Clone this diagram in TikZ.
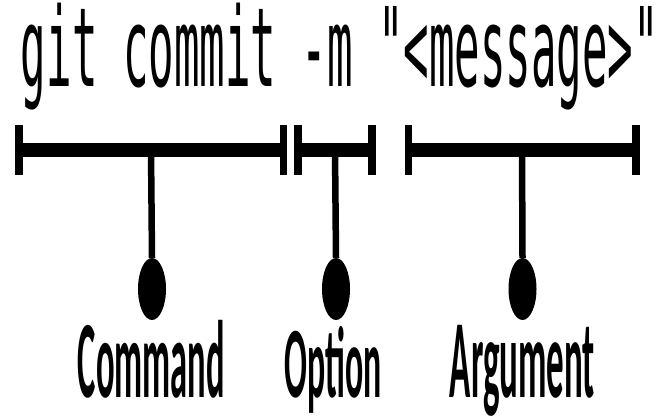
\documentclass[tikz,border=0pt]{standalone}
\usepackage{fontspec}
\setmainfont{Carlito}
\setmonofont{DejaVu Sans Mono}
\usetikzlibrary{shapes.geometric}
\begin{document}
\begin{tikzpicture}[x=1pt,y=-1pt,
  barline/.style={line width=14pt},
  tickline/.style={line width=7.5pt},
  stemline/.style={line width=6.5pt},
  bulb/.style={ellipse,fill=black,minimum width=28pt,minimum height=62pt,inner sep=0pt},
  lbl/.style={inner sep=0pt,anchor=base}]
\useasboundingbox (0,0) rectangle (660,417);
% title
\node[lbl] (title) at (340,86) {\resizebox*{638pt}{107pt}{\ttfamily git commit -m "<message>"}};
% bars
\coordinate (cL) at (19,150); \coordinate (cR) at (283.5,150);
\coordinate (oL) at (298,150); \coordinate (oR) at (372,150);
\coordinate (aL) at (408.5,150); \coordinate (aR) at (636,150);
\draw[barline] (cL) -- (cR);
\draw[barline] (oL) -- (oR);
\draw[barline] (aL) -- (aR);
\foreach \p in {cL,cR,oL,oR,aL,aR}{
  \draw[tickline] (\p) ++(0,-25) -- ++(0,50);
}
% stems and bulbs
\coordinate (cS) at (151,150);
\coordinate (oS) at (335,150);
\coordinate (aS) at (522,150);
\node[bulb] (cB) at (152,289) {};
\node[bulb] (oB) at (336,289) {};
\node[bulb] (aB) at (522.5,289) {};
\draw[stemline] (cS) -- (cB.north);
\draw[stemline] (oS) -- (oB.north);
\draw[stemline] (aS) -- (aB.north);
% labels
\node[lbl] (cmdlbl) at (151.5,397) {\resizebox*{147pt}{78pt}{\bfseries Command}};
\node[lbl] (optlbl) at (333.5,397) {\resizebox*{97pt}{87pt}{\bfseries Option}};
\node[lbl] (arglbl) at (522.5,397) {\resizebox*{145pt}{91pt}{\bfseries Argument}};
\end{tikzpicture}
\end{document}
